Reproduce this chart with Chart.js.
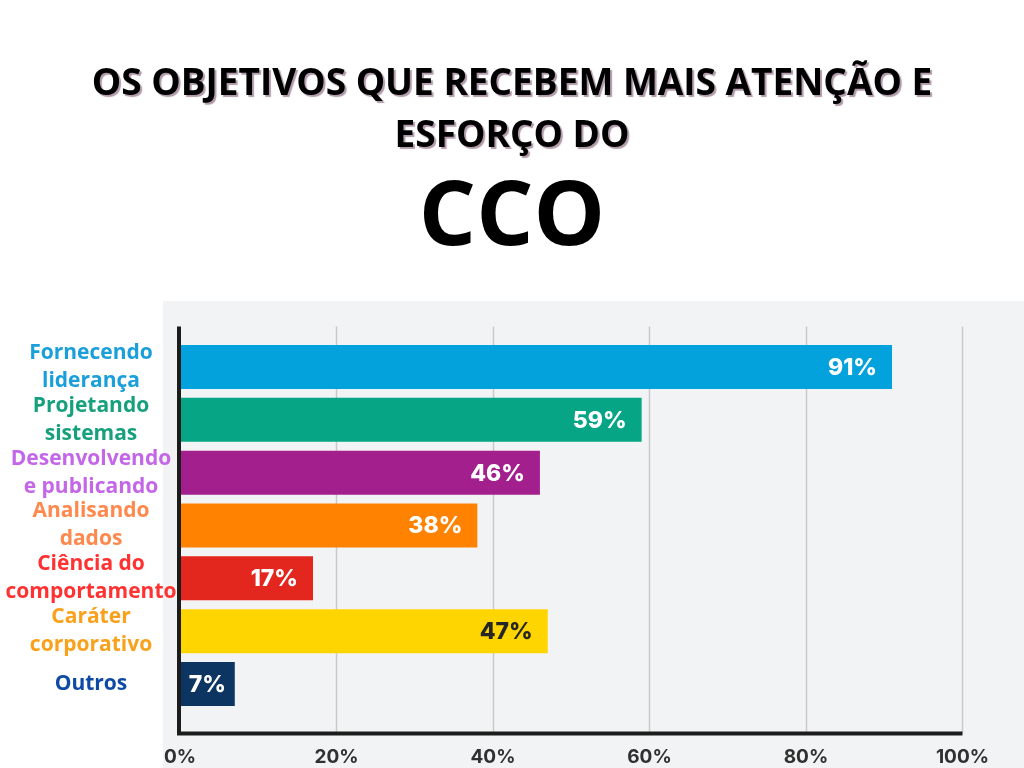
<!DOCTYPE html>
<html>
<head>
<meta charset="utf-8">
<script src="https://cdn.jsdelivr.net/npm/chart.js@4/dist/chart.umd.min.js"></script>
<style>
  html, body { margin: 0; padding: 0; background: #fff; }
  #wrap { position: relative; width: 1024px; height: 768px; overflow: hidden; }
  #chartBox { position: absolute; left: 0; top: 0; width: 1024px; height: 768px; }
  .t { position: absolute; left: 0; width: 1024px; text-align: center; white-space: nowrap;
       font-family: "Open Sans", sans-serif; font-weight: 700; color: #000; }
  .t1 { top: 62px; font-size: 37px; line-height: 37px; text-shadow: 2px 2px 1px rgba(150,120,140,0.75); }
  .t2 { top: 114px; font-size: 37px; line-height: 37px; text-shadow: 2px 2px 1px rgba(150,120,140,0.75); }
  .t3 { top: 165px; font-size: 90px; line-height: 90px; }
</style>
</head>
<body>
<div id="wrap">
  <div id="chartBox"><canvas id="c"></canvas></div>
  <div class="t t1">OS OBJETIVOS QUE RECEBEM MAIS ATENÇÃO E</div>
  <div class="t t2">ESFORÇO DO</div>
  <div class="t t3">CCO</div>
</div>
<script>
// ---- data ----
const categories = [
  ["Fornecendo", "liderança"],
  ["Projetando", "sistemas"],
  ["Desenvolvendo", "e publicando"],
  ["Analisando", "dados"],
  ["Ciência do", "comportamento"],
  ["Caráter", "corporativo"],
  ["Outros"]
];
const values = [91, 59, 46, 38, 17, 47, 7];
const xTickValues = [0, 20, 40, 60, 80, 100];
const barColors = ["#03a2dd", "#05a585", "#a21f8d", "#ff8200", "#e3261e", "#ffd500", "#0d3561"];
const labelColors = ["#1a9fdb", "#17a07e", "#c466e8", "#ff884d", "#ff3131", "#f9a11b", "#0d4aa6"];
const valueLabelColors = ["#ffffff", "#ffffff", "#ffffff", "#ffffff", "#ffffff", "#262626", "#ffffff"];

// ---- layout helpers ----
const yFont = { family: '"Open Sans", sans-serif', size: 21, weight: '700', lineHeight: 28 / 21 };
const mctx = document.createElement('canvas').getContext('2d');
mctx.font = 'bold 21px "Open Sans"';
let widest = 0;
categories.forEach(c => c.forEach(l => { widest = Math.max(widest, mctx.measureText(l).width); }));
const yLabelCenter = 91;
const yAxisWidth = 180;
const yPad = Math.max(0, yAxisWidth - yLabelCenter - widest / 2);

const bgPlugin = {
  id: 'bg',
  beforeDraw(chart) {
    const ctx = chart.ctx;
    ctx.save();
    ctx.fillStyle = '#ffffff';
    ctx.fillRect(0, 0, chart.width, chart.height);
    ctx.fillStyle = '#f2f3f5';
    ctx.fillRect(163, 301, chart.width - 163, chart.height - 301);
    // vertical grid lines, extended a bit beyond the bar band
    const xs = chart.scales.x;
    const top = chart.chartArea.top - 14;
    const bottom = chart.chartArea.bottom + 23;
    ctx.strokeStyle = '#c9c9c9';
    ctx.lineWidth = 1.5;
    xs.ticks.forEach(t => {
      if (t.value === 0) return;
      const px = Math.round(xs.getPixelForValue(t.value)) + 0.5;
      ctx.beginPath();
      ctx.moveTo(px, top);
      ctx.lineTo(px, bottom);
      ctx.stroke();
    });
    ctx.restore();
  },
  afterDatasetsDraw(chart) {
    const ctx = chart.ctx;
    const xs = chart.scales.x;
    const top = chart.chartArea.top - 14;
    const bottom = chart.chartArea.bottom + 23;
    const x0 = xs.getPixelForValue(0);
    const x100 = xs.getPixelForValue(100);
    ctx.save();
    ctx.strokeStyle = '#1c1c1c';
    ctx.lineWidth = 4;
    ctx.beginPath();
    ctx.moveTo(x0 - 1, top);
    ctx.lineTo(x0 - 1, bottom + 2);
    ctx.moveTo(x0 - 3, bottom);
    ctx.lineTo(x100, bottom);
    ctx.stroke();

    // value labels
    const meta = chart.getDatasetMeta(0);
    ctx.font = '800 23px Inter, sans-serif';
    ctx.textBaseline = 'middle';
    meta.data.forEach((bar, i) => {
      const txt = values[i] + '%';
      const w = ctx.measureText(txt).width;
      const barW = bar.x - bar.base;
      ctx.fillStyle = valueLabelColors[i];
      if (barW - 30 >= w) {
        ctx.textAlign = 'right';
        ctx.fillText(txt, bar.x - 15, bar.y + 1);
      } else {
        ctx.textAlign = 'center';
        ctx.fillText(txt, (bar.x + bar.base) / 2, bar.y + 1);
      }
    });
    ctx.restore();
  }
};

new Chart(document.getElementById('c'), {
  type: 'bar',
  data: {
    labels: categories,
    datasets: [{
      data: values,
      backgroundColor: barColors,
      borderWidth: 0,
      categoryPercentage: 1,
      barPercentage: 44 / 52.83
    }]
  },
  options: {
    indexAxis: 'y',
    responsive: true,
    maintainAspectRatio: false,
    animation: false,
    layout: { padding: { top: 340.6, right: 58, bottom: 1.6, left: 0 } },
    plugins: { legend: { display: false }, tooltip: { enabled: false } },
    scales: {
      x: {
        min: 0, max: 100,
        afterBuildTicks(scale) { scale.ticks = xTickValues.map(v => ({ value: v })); },
        afterFit(scale) { scale.height = 56; },
        grid: { display: false, drawTicks: false },
        border: { display: false },
        ticks: {
          autoSkip: false,
          maxRotation: 0,
          padding: 35,
          color: '#303030',
          font: { family: 'Inter, sans-serif', size: 19, weight: '700' },
          callback: v => v + '%'
        }
      },
      y: {
        afterFit(scale) { scale.width = yAxisWidth; },
        grid: { display: false, drawTicks: false },
        border: { display: false },
        ticks: {
          autoSkip: false,
          crossAlign: 'center',
          padding: yPad,
          font: yFont,
          color: ctx => labelColors[ctx.index]
        }
      }
    }
  },
  plugins: [bgPlugin]
});
</script>
</body>
</html>
